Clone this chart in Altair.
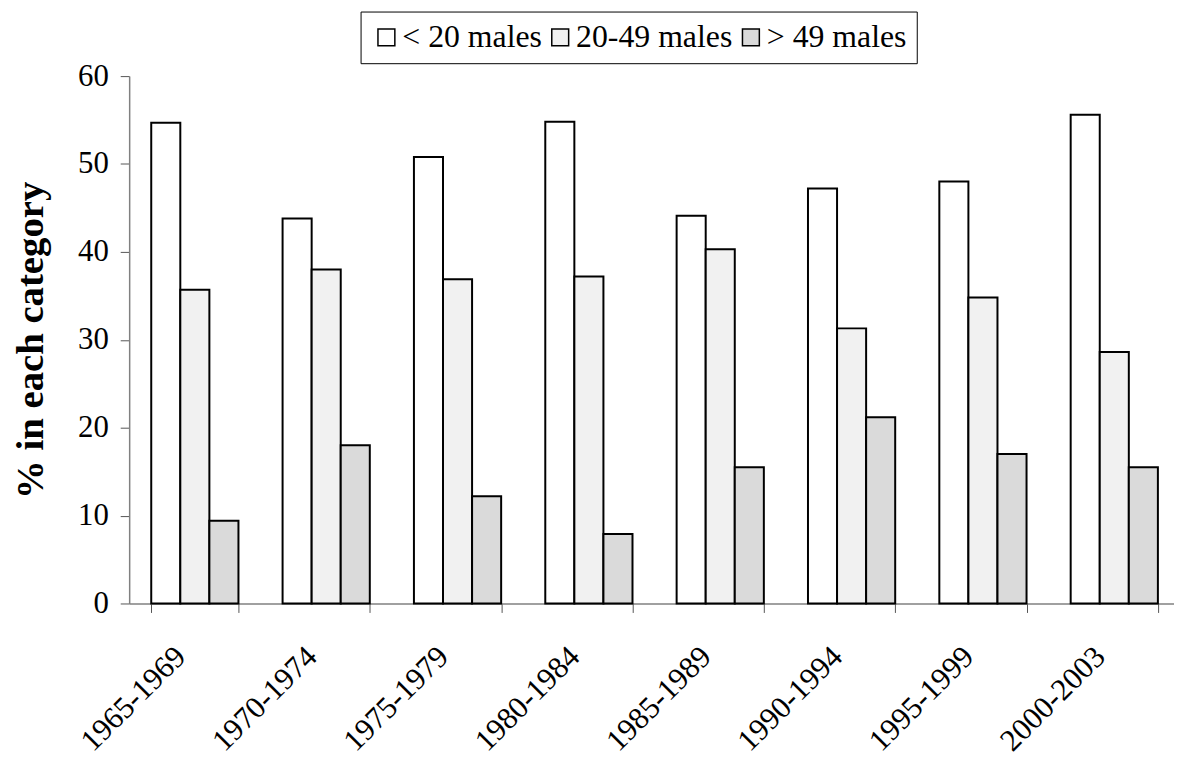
import altair as alt
import pandas as pd

periods = ["1965-1969", "1970-1974", "1975-1979", "1980-1984",
           "1985-1989", "1990-1994", "1995-1999", "2000-2003"]
series = ["< 20 males", "20-49 males", "> 49 males"]
under20 = [54.7, 43.8, 50.8, 54.8, 44.1, 47.2, 48.0, 55.6]
from20to49 = [35.7, 38.0, 36.9, 37.2, 40.3, 31.3, 34.8, 28.6]
over49 = [9.4, 18.0, 12.2, 7.9, 15.5, 21.2, 17.0, 15.5]
y_ticks = [0, 10, 20, 30, 40, 50, 60]
fills = ["#ffffff", "#f1f1f1", "#dadada"]

rows = []
for name, vals in zip(series, [under20, from20to49, over49]):
    for p, v in zip(periods, vals):
        rows.append({"period": p, "group": name, "value": v})
df = pd.DataFrame(rows)

FONT = "Liberation Serif"

chart = alt.Chart(df).mark_bar(stroke="black", strokeWidth=2).encode(
    x=alt.X("period:N", sort=periods,
            scale=alt.Scale(range=[0, 1058], paddingInner=0.336, paddingOuter=0.168),
            axis=alt.Axis(title=None, tickBand="extent", tickSize=9,
                          domainColor="#808080", tickColor="#555555", domainWidth=1.5,
                          labelAngle=-45, labelAlign="right", labelBaseline="top",
                          labelPadding=29, labelOffset=-25, labelFontSize=31,
                          labelFont=FONT, labelColor="black", labelOverlap=False,
                          grid=False)),
    xOffset=alt.XOffset("group:N", sort=series,
                        scale=alt.Scale(domain=series, paddingInner=0, paddingOuter=0)),
    y=alt.Y("value:Q",
            scale=alt.Scale(domain=[0, 60], nice=False, zero=True),
            axis=alt.Axis(values=y_ticks, tickSize=9, labelPadding=12,
                          labelFontSize=31, labelFont=FONT, labelColor="black",
                          domainColor="#808080", tickColor="#555555", domainWidth=1.5,
                          grid=False, title="% in each category",
                          titleFont=FONT, titleFontSize=39, titleFontWeight="bold",
                          titleColor="black", titlePadding=27)),
    fill=alt.Fill("group:N", sort=series,
                  scale=alt.Scale(domain=series, range=fills),
                  legend=alt.Legend(title=None, orient="none", legendX=233, legendY=-65,
                                    direction="horizontal", padding=10,
                                    strokeColor="black", fillColor="white",
                                    symbolType="square", symbolSize=289,
                                    symbolStrokeColor="black", symbolStrokeWidth=1.5,
                                    labelFont=FONT, labelFontSize=32, labelColor="black",
                                    labelOffset=0, columnPadding=2, labelLimit=400)),
).properties(
    width=1052, height=531,
    autosize=alt.AutoSizeParams(type="none"),
    padding={"left": 122, "top": 66, "right": 0, "bottom": 153},
).configure_view(stroke=None)

chart.save("out.html", embed_options={"renderer": "svg", "actions": False})
